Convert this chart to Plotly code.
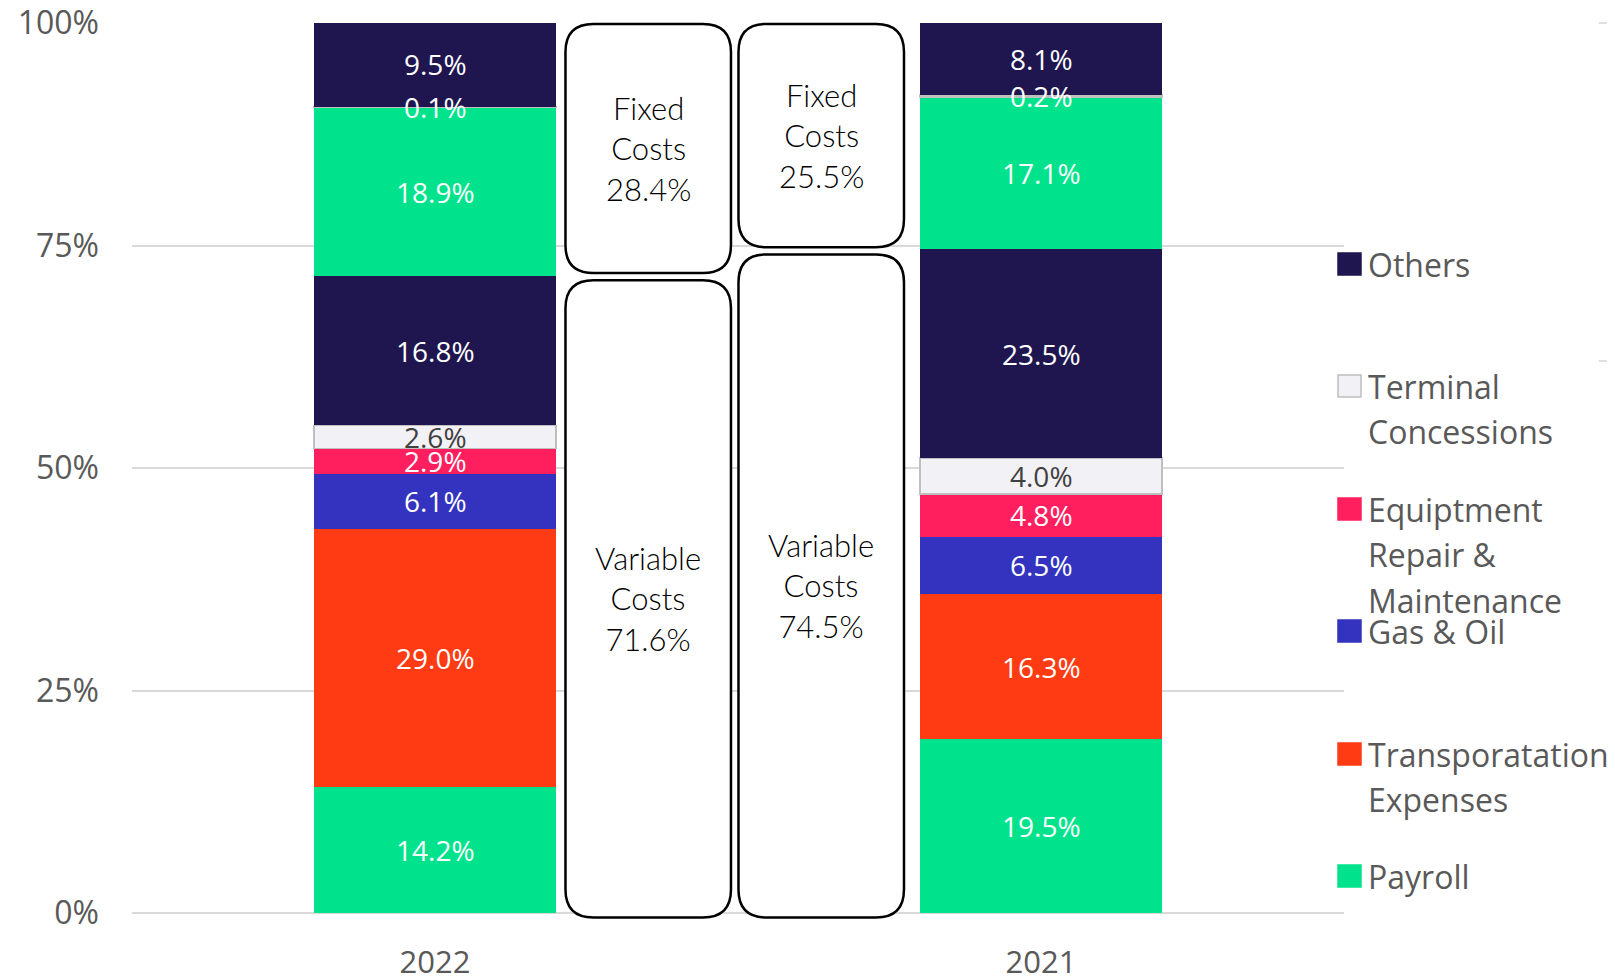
import plotly.graph_objects as go

# categories (years) and stacked segments, bottom to top
years = ["2022", "2021"]

payroll_var = [14.2, 19.5]
transport = [29.0, 16.3]
gas_oil = [6.1, 6.5]
equipment = [2.9, 4.8]
terminal_var = [2.6, 4.0]
others_var = [16.8, 23.5]
payroll_fix = [18.9, 17.1]
terminal_fix = [0.1, 0.2]
others_fix = [9.5, 8.1]

fixed_share = [28.4, 25.5]
variable_share = [71.6, 74.5]

y_ticks = [0, 25, 50, 75, 100]
y_ticklabels = ["0%", "25%", "50%", "75%", "100%"]

NAVY = "#1F1650"
GREEN = "#00E38C"
RED = "#FF3B14"
BLUE = "#3333BF"
PINK = "#FF1F5F"
LIGHT = "#F2F1F5"

segments = [
    ("Payroll", payroll_var, GREEN, "white"),
    ("Transporatation Expenses", transport, RED, "white"),
    ("Gas & Oil", gas_oil, BLUE, "white"),
    ("Equiptment Repair & Maintenance", equipment, PINK, "white"),
    ("Terminal Concessions", terminal_var, LIGHT, "#404040"),
    ("Others", others_var, NAVY, "white"),
    ("Payroll", payroll_fix, GREEN, "white"),
    ("Terminal Concessions", terminal_fix, LIGHT, "white"),
    ("Others", others_fix, NAVY, "white"),
]

# the page puts the figure 8px in from the top-left corner
OFF = 8
W, H = 1615 - OFF, 978 - OFF
# plot area in page pixels
L, R, T, B = 132, 1344, 23, 913


def px_x(px):
    return (px - L) / (R - L)


def px_y(py):
    return (B - py) / (B - T)


def cat_x(c):
    # category coordinate -> paper x (range -0.5 .. 1.5)
    return (c + 0.5) / 2


xpos = list(range(len(years)))

fig = go.Figure()
annotations = []
base = [0.0] * len(years)
for name, vals, col, tcol in segments:
    is_term = col == LIGHT
    fig.add_trace(go.Bar(
        x=xpos, y=vals, name=name,
        marker=dict(color=col,
                    line=dict(color="#BFBFBF" if is_term else col,
                              width=1.5 if is_term else 0)),
        width=0.4, showlegend=False, hoverinfo="skip",
    ))
    # value labels drawn above all bars
    for i, v in enumerate(vals):
        annotations.append(dict(
            x=xpos[i], y=base[i] + v / 2, xref="x", yref="y",
            text=f"{v:.1f}%", showarrow=False,
            xanchor="center", yanchor="middle",
            font=dict(family="Open Sans", size=28, color=tcol)))
        base[i] += v


def rounded_box(x0, x1, y0, y1, rpx=28):
    rx = rpx / (R - L)
    ry = rpx / (B - T)
    return (f"M {x0 + rx},{y0} L {x1 - rx},{y0} Q {x1},{y0} {x1},{y0 + ry} "
            f"L {x1},{y1 - ry} Q {x1},{y1} {x1 - rx},{y1} "
            f"L {x0 + rx},{y1} Q {x0},{y1} {x0},{y1 - ry} "
            f"L {x0},{y0 + ry} Q {x0},{y0} {x0 + rx},{y0} Z")


shapes = []
box_cols = [(0.2153, 0.4884), (0.5008, 0.7739)]
box_font = dict(family="Lato", size=31, color="black", weight=300)
for i, (c0, c1) in enumerate(box_cols):
    x0, x1 = cat_x(c0), cat_x(c1)
    v = variable_share[i]
    up = (v + 0.3) / 100, 0.999
    lo = -0.005, (v - 0.5) / 100
    for y0, y1 in (up, lo):
        shapes.append(dict(type="path", xref="paper", yref="paper",
                           path=rounded_box(x0, x1, y0, y1),
                           line=dict(color="black", width=2.5),
                           fillcolor="white", layer="above"))
    annotations.append(dict(
        xref="paper", yref="paper", x=(x0 + x1) / 2, y=(up[0] + up[1]) / 2,
        xanchor="center", yanchor="middle",
        text=f"Fixed<br>Costs<br>{fixed_share[i]}%", showarrow=False,
        font=box_font, align="center"))
    annotations.append(dict(
        xref="paper", yref="paper", x=(x0 + x1) / 2, y=(lo[0] + lo[1]) / 2,
        xanchor="center", yanchor="middle",
        text=f"Variable<br>Costs<br>{variable_share[i]}%", showarrow=False,
        font=box_font, align="center"))

# custom legend
legend_items = [
    (["Others"], NAVY, 264),
    (["Terminal", "Concessions"], LIGHT, 386),
    (["Equiptment", "Repair &", "Maintenance"], PINK, 509),
    (["Gas & Oil"], BLUE, 631),
    (["Transporatation", "Expenses"], RED, 754),
    (["Payroll"], GREEN, 876),
]
for lines, col, yc in legend_items:
    shapes.append(dict(type="rect", xref="paper", yref="paper",
                       x0=px_x(1338), x1=px_x(1361),
                       y0=px_y(yc + 11), y1=px_y(yc - 11),
                       fillcolor=col,
                       line=dict(color="#BFBFBF" if col == LIGHT else col, width=1.5)))
    for k, ln in enumerate(lines):
        annotations.append(dict(
            xref="paper", yref="paper", x=px_x(1366), y=px_y(yc + k * 45.5),
            xanchor="left", yanchor="middle", text=ln, showarrow=False,
            font=dict(family="Open Sans", size=32, color="#595959")))

# cut-off bits of a neighbouring chart on the right edge
for yy in (23, 361):
    shapes.append(dict(type="line", xref="paper", yref="paper",
                       x0=px_x(1599), x1=px_x(1615), y0=px_y(yy), y1=px_y(yy),
                       line=dict(color="#E0E0E0", width=2)))
for yy in (110, 233):
    shapes.append(dict(type="rect", xref="paper", yref="paper",
                       x0=px_x(1611), x1=px_x(1620),
                       y0=px_y(yy + 5), y1=px_y(yy - 5),
                       fillcolor="black", line=dict(width=0)))

fig.update_layout(
    width=W, height=H,
    barmode="stack",
    plot_bgcolor="white", paper_bgcolor="white",
    margin=dict(l=L - OFF, r=1615 - R, t=T - OFF, b=978 - B, pad=0,
                autoexpand=False),
    shapes=shapes, annotations=annotations,
    xaxis=dict(type="linear", range=[-0.5, 1.5], tickmode="array",
               tickvals=xpos, ticktext=years,
               showgrid=False, showline=False, zeroline=False, ticks="",
               automargin=False, ticklabeloverflow="allow",
               tickfont=dict(family="Open Sans", size=31, color="#595959"),
               ticklabelstandoff=28),
    yaxis=dict(range=[0, 100], tickmode="array", tickvals=y_ticks,
               ticktext=y_ticklabels, automargin=False,
               ticklabeloverflow="allow",
               showgrid=True, gridcolor="#D9D9D9", gridwidth=1.5,
               zeroline=True, zerolinecolor="#D9D9D9", zerolinewidth=1.5,
               showline=False, ticks="",
               tickfont=dict(family="Open Sans", size=32, color="#595959"),
               ticklabelstandoff=32),
    font=dict(family="Open Sans"),
)

fig.write_html("out.html")
